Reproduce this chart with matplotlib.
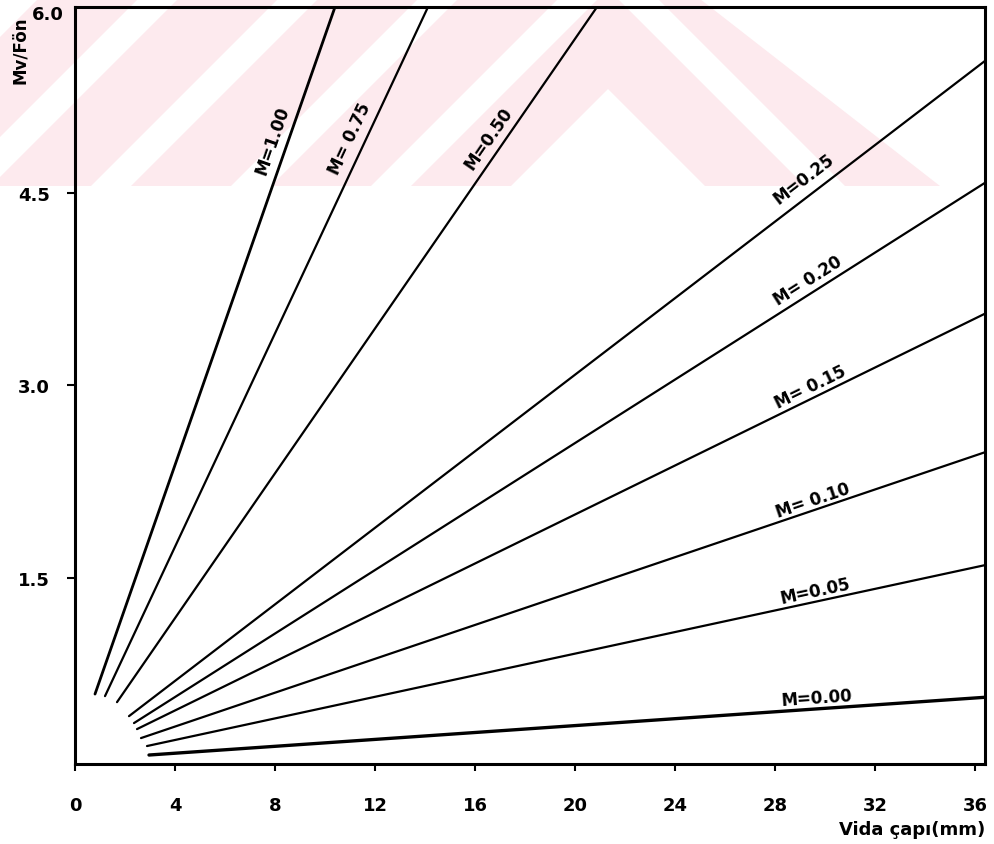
import numpy as np
import matplotlib
matplotlib.use("Agg")
import matplotlib.pyplot as plt
from matplotlib.patches import Polygon

# ---- data ----
m_labels = ["M=1.00", "M= 0.75", "M=0.50", "M=0.25", "M= 0.20",
            "M= 0.15", "M= 0.10", "M=0.05", "M=0.00"]
x_start = [0.80, 1.20, 1.68, 2.16, 2.36, 2.48, 2.64, 2.88, 2.96]
y_start = [0.595, 0.579, 0.532, 0.423, 0.369, 0.322, 0.252, 0.190, 0.120]
x_end = [10.40, 14.12, 20.88, 36.4, 36.4, 36.4, 36.4, 36.4, 36.4]
y_end = [5.95, 5.95, 5.95, 5.53, 4.58, 3.56, 2.48, 1.60, 0.57]
x_ticks = [0, 4, 8, 12, 16, 20, 24, 28, 32, 36]
y_ticks = [1.5, 3.0, 4.5]
y_tick_labels = ["1.5", "3.0", "4.5"]

W, H = 995, 845
fig = plt.figure(figsize=(W / 100, H / 100), dpi=100)
fig.patch.set_facecolor("white")

# ---- faint pink watermark (decorative background, pixel space) ----
bg = fig.add_axes([0, 0, 1, 1], zorder=-1)
bg.set_xlim(0, W)
bg.set_ylim(H, 0)
bg.axis("off")
pink = "#fdeaee"
clip = Polygon([(0, 0), (700, 0), (940, 187), (0, 187)], closed=True,
               facecolor="none", edgecolor="none")
bg.add_patch(clip)
cx = 608
L = 1200
for d1, d2 in [(-10, 90), (-150, -50), (-290, -190), (-430, -330),
               (-570, -470), (-710, -610)]:
    pts = [(cx - L, d1 + L), (cx, d1), (cx + L, d1 + L),
           (cx + L, d2 + L), (cx, d2), (cx - L, d2 + L)]
    poly = Polygon(pts, closed=True, facecolor=pink, edgecolor="none")
    bg.add_patch(poly)
    poly.set_clip_path(clip)

# ---- main axes ----
ax = fig.add_axes([75 / W, 1 - 765 / H, (985 - 75) / W, (765 - 8) / H],
                  zorder=1)
ax.set_facecolor("none")
ax.set_xlim(0, 36.4)
ax.set_ylim(0.05, 5.95)

for sp in ax.spines.values():
    sp.set_linewidth(2.2)
    sp.set_color("black")

ax.set_xticks(x_ticks)
ax.set_xticklabels([str(v) for v in x_ticks], fontsize=13, fontweight="bold")
ax.set_yticks(y_ticks)
ax.set_yticklabels(y_tick_labels, fontsize=13, fontweight="bold")
ax.tick_params(axis="x", direction="out", length=5, width=1.5, pad=18)
ax.tick_params(axis="y", direction="out", length=6, width=1.5, pad=12)

lws = [2.0, 1.6, 1.6, 1.6, 1.6, 1.6, 1.6, 1.6, 2.4]
offsets = [11, 11, 11, 12, 9, 8, 7, 8, 8]
fig.canvas.draw()
for i in range(len(m_labels)):
    ax.plot([x_start[i], x_end[i]], [y_start[i], y_end[i]],
            color="black", lw=lws[i], solid_capstyle="round", zorder=3)
    p0 = ax.transData.transform((x_start[i], y_start[i]))
    p1 = ax.transData.transform((x_end[i], y_end[i]))
    ang = np.degrees(np.arctan2(p1[1] - p0[1], p1[0] - p0[0]))
    t = 0.8
    xm = x_start[i] + t * (x_end[i] - x_start[i])
    ym = y_start[i] + t * (y_end[i] - y_start[i])
    th = np.radians(ang)
    d = offsets[i]
    ax.annotate(m_labels[i], (xm, ym),
                xytext=(-np.sin(th) * d, np.cos(th) * d),
                textcoords="offset points", rotation=ang,
                rotation_mode="anchor", ha="center", va="center",
                fontsize=12, fontweight="bold", color="black", zorder=4)

fig.text(48 / W, 1 - 15 / H, "6.0", fontsize=13, fontweight="bold",
         ha="center", va="center")
fig.text(20 / W, 1 - 50 / H, "Mv/Fön", fontsize=12, fontweight="bold",
         rotation=90, ha="center", va="center")
fig.text(985 / W, 1 - 830 / H, "Vida çapı(mm)", fontsize=13,
         fontweight="bold", ha="right", va="center")

fig.savefig("out.png", dpi=100)
